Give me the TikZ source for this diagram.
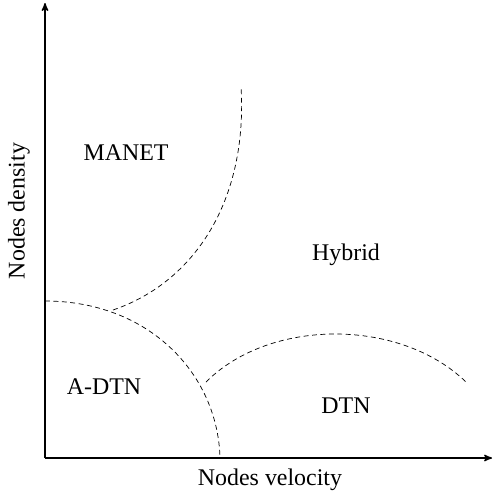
\documentclass[tikz,border=0pt]{standalone}
\usepackage{fontspec}
\setmainfont{Liberation Serif}
\usepackage{tikz}
\usetikzlibrary{arrows, positioning}
\tikzset{
>=stealth', % arrow heads of the axes
axis/.style={->, line width=1pt, black},
border/.style={dashed, line width=0.5pt, dash pattern=on 3.5pt off 2.5pt},
region/.style={font=\fontsize{17}{20}\selectfont},
texto/.style={font=\fontsize{17}{20}\selectfont}
}
\begin{document}
\begin{tikzpicture}[x=0.025cm, y=-0.025cm]
        \useasboundingbox (0,0) rectangle (493,495);
        % axes
        \coordinate (origin) at (45,458);
        \coordinate (ytop) at (45,3);
        \coordinate (xend) at (492,458);
        \draw[axis] (origin) -- (ytop);
        \draw[axis] (origin) -- (xend);
        \node[texto] (xlabel) at (270,480) {Nodes velocity};
        \node[texto, rotate=90] (ylabel) at (19,211) {Nodes density};
        % borders between the regions
        \coordinate (adtnstart) at (45,301);
        \coordinate (adtnend) at (220,458);
        \coordinate (jmanet) at (113,310);
        \coordinate (manetend) at (241,86);
        \coordinate (jdtn) at (206,382);
        \coordinate (dtnend) at (466,382);
        \draw[border] (adtnstart) .. controls (150,301) and (218,375) .. (adtnend);
        \draw[border] (jmanet) .. controls (195,282) and (248,200) .. (manetend);
        \draw[border] (jdtn) .. controls (270,318) and (400,318) .. (dtnend);
        % regions
        \node[region] (manet) at (126,153) {MANET};
        \node[region] (hybrid) at (346,255) {Hybrid};
        \node[region] (adtn) at (104,387) {A-DTN};
        \node[region] (dtn) at (346,406) {DTN};
      \end{tikzpicture}
\end{document}
